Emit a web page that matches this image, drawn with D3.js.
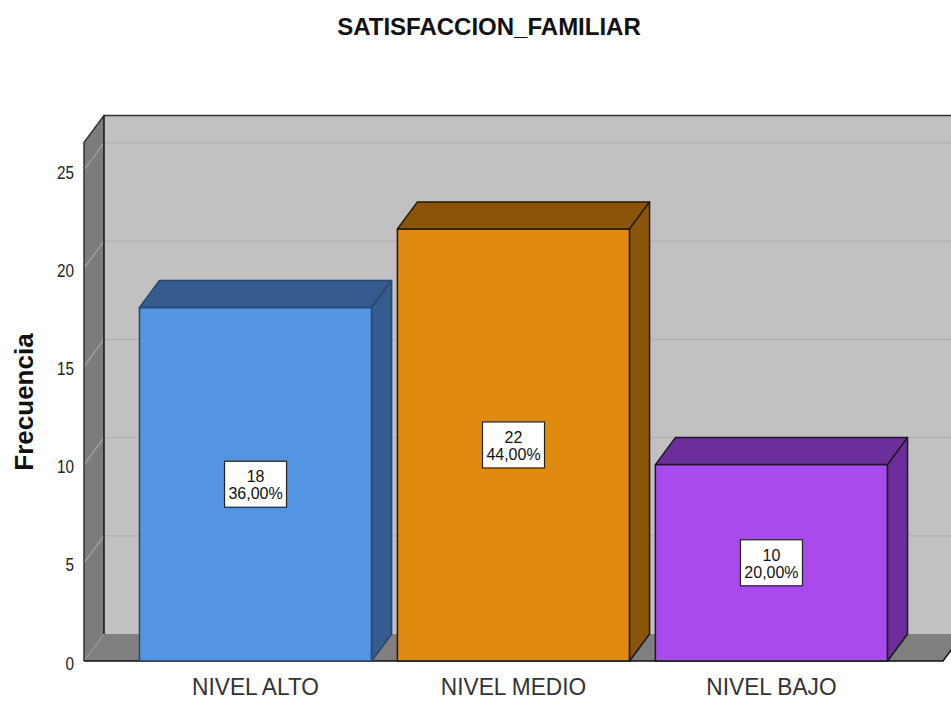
<!DOCTYPE html>
<html>
<head>
<meta charset="utf-8">
<script src="https://cdn.jsdelivr.net/npm/d3@7"></script>
<style>
  body { margin: 0; background: #fff; }
  svg { display: block; font-family: "Liberation Sans", Arial, sans-serif; }
</style>
</head>
<body>
<svg id="chart" width="951" height="701"></svg>
<script>
// data
const categories = ["NIVEL ALTO", "NIVEL MEDIO", "NIVEL BAJO"];
const counts = [18, 22, 10];
const percents = ["36,00%", "44,00%", "20,00%"];
const yTicks = [0, 5, 10, 15, 20, 25];

const frontColors = ["#5394e3", "#e08a10", "#a94aee"];
const darkColors = ["#365b8e", "#8b5509", "#6b2e9a"];
const edgeColors = ["#2a4670", "#1a1a1a", "#1a1a1a"];

const width = 951, height = 701;
const dx = 20, dy = -27; // 3d depth offset

const svg = d3.select("#chart");

const y = d3.scaleLinear()
  .domain([0, 26.4])
  .range([661, 142.5]);

const x = d3.scaleBand()
  .domain(categories)
  .range([84, 943])
  .paddingInner(0.1)
  .paddingOuter(0.215);

const x0 = 84, x1 = 943;
const yBase = y(0), yTop = y(26.4);

// squeeze text horizontally like the narrow SPSS font
function condense(sel, k) {
  sel.each(function() {
    const w = this.getComputedTextLength();
    d3.select(this)
      .attr("textLength", w * k)
      .attr("lengthAdjust", "spacingAndGlyphs");
  });
}

// back wall
svg.append("rect")
  .attr("x", x0 + dx).attr("y", yTop + dy)
  .attr("width", x1 - x0).attr("height", yBase - yTop)
  .attr("fill", "#c1c1c1");

// gridlines on the back wall
svg.append("g")
  .selectAll("line")
  .data(yTicks.filter(d => d > 0))
  .join("line")
  .attr("x1", x0 + dx).attr("x2", x1 + dx)
  .attr("y1", d => y(d) + dy).attr("y2", d => y(d) + dy)
  .attr("stroke", "#b2b2b2")
  .attr("stroke-width", 1.5);

// left wall
svg.append("polygon")
  .attr("points", [[x0, yTop], [x0 + dx, yTop + dy], [x0 + dx, yBase + dy], [x0, yBase]].join(" "))
  .attr("fill", "#7c7c7c");

svg.append("g")
  .selectAll("line")
  .data(yTicks.filter(d => d > 0))
  .join("line")
  .attr("x1", x0).attr("x2", x0 + dx)
  .attr("y1", d => y(d)).attr("y2", d => y(d) + dy)
  .attr("stroke", "#a6a6a6")
  .attr("stroke-width", 1.2);

// floor
svg.append("polygon")
  .attr("points", [[x0, yBase], [x0 + dx, yBase + dy], [x1 + dx, yBase + dy], [x1, yBase]].join(" "))
  .attr("fill", "#7f7f7f");

svg.append("line")
  .attr("x1", x0).attr("y1", yBase).attr("x2", x0 + dx).attr("y2", yBase + dy)
  .attr("stroke", "#a0a0a0").attr("stroke-width", 1);

// frame edges
const frame = svg.append("g").attr("fill", "none").attr("stroke", "#111").attr("stroke-width", 1.5);
frame.append("polyline")
  .attr("points", [[x0, yBase], [x0, yTop], [x0 + dx, yTop + dy], [x1 + dx, yTop + dy]].join(" "))
  .attr("stroke", "#333");
frame.append("line")
  .attr("x1", x0 + dx).attr("y1", yTop + dy).attr("x2", x0 + dx).attr("y2", yBase + dy);
frame.append("polyline")
  .attr("points", [[x0, yBase], [x1, yBase], [x1 + dx, yBase + dy]].join(" "));

// bars
const bw = x.bandwidth();
const bars = svg.append("g")
  .selectAll("g")
  .data(categories)
  .join("g")
  .attr("stroke", (d, i) => edgeColors[i])
  .attr("stroke-width", 1.5)
  .attr("stroke-linejoin", "round");

bars.append("rect")
  .attr("x", d => x(d))
  .attr("y", (d, i) => y(counts[i]))
  .attr("width", bw)
  .attr("height", (d, i) => yBase - y(counts[i]))
  .attr("fill", (d, i) => frontColors[i]);

bars.append("polygon")
  .attr("points", (d, i) => {
    const l = x(d), r = x(d) + bw, t = y(counts[i]);
    return [[l, t], [l + dx, t + dy], [r + dx, t + dy], [r, t]].join(" ");
  })
  .attr("fill", (d, i) => darkColors[i]);

bars.append("polygon")
  .attr("points", (d, i) => {
    const r = x(d) + bw, t = y(counts[i]);
    return [[r, t], [r + dx, t + dy], [r + dx, yBase + dy], [r, yBase]].join(" ");
  })
  .attr("fill", (d, i) => darkColors[i]);

// value labels
const labels = svg.append("g")
  .selectAll("g")
  .data(categories)
  .join("g")
  .attr("transform", (d, i) => `translate(${x(d) + bw / 2},${(y(counts[i]) + yBase) / 2})`);

labels.append("rect")
  .attr("x", -31).attr("y", -23)
  .attr("width", 62).attr("height", 46)
  .attr("fill", "#fff")
  .attr("stroke", "#222")
  .attr("stroke-width", 1.2);

labels.append("text")
  .attr("text-anchor", "middle")
  .attr("y", -2)
  .attr("font-size", 16)
  .attr("fill", "#111")
  .text((d, i) => counts[i]);

labels.append("text")
  .attr("text-anchor", "middle")
  .attr("y", 15)
  .attr("font-size", 16)
  .attr("fill", "#111")
  .text((d, i) => percents[i]);

// y axis
const yAxis = svg.append("g")
  .attr("transform", `translate(${x0},0)`)
  .call(d3.axisLeft(y).tickValues(yTicks).tickSize(0).tickPadding(10));
yAxis.select(".domain").remove();
yAxis.selectAll("text")
  .attr("font-size", 18)
  .attr("fill", "#222")
  .attr("dy", "0.45em")
  .call(condense, 0.85);

// x axis
const xAxis = svg.append("g")
  .attr("transform", `translate(0,${yBase})`)
  .call(d3.axisBottom(x).tickSize(0).tickPadding(17));
xAxis.select(".domain").remove();
xAxis.selectAll("text")
  .attr("font-size", 24)
  .attr("fill", "#333")
  .call(condense, 0.945);

// titles
svg.append("text")
  .attr("x", 489).attr("y", 35)
  .attr("text-anchor", "middle")
  .attr("font-size", 24)
  .attr("font-weight", "bold")
  .attr("fill", "#111")
  .text("SATISFACCION_FAMILIAR");

svg.append("text")
  .attr("transform", "translate(33,402) rotate(-90)")
  .attr("text-anchor", "middle")
  .attr("font-size", 26)
  .attr("font-weight", "bold")
  .attr("fill", "#111")
  .text("Frecuencia");
</script>
</body>
</html>
